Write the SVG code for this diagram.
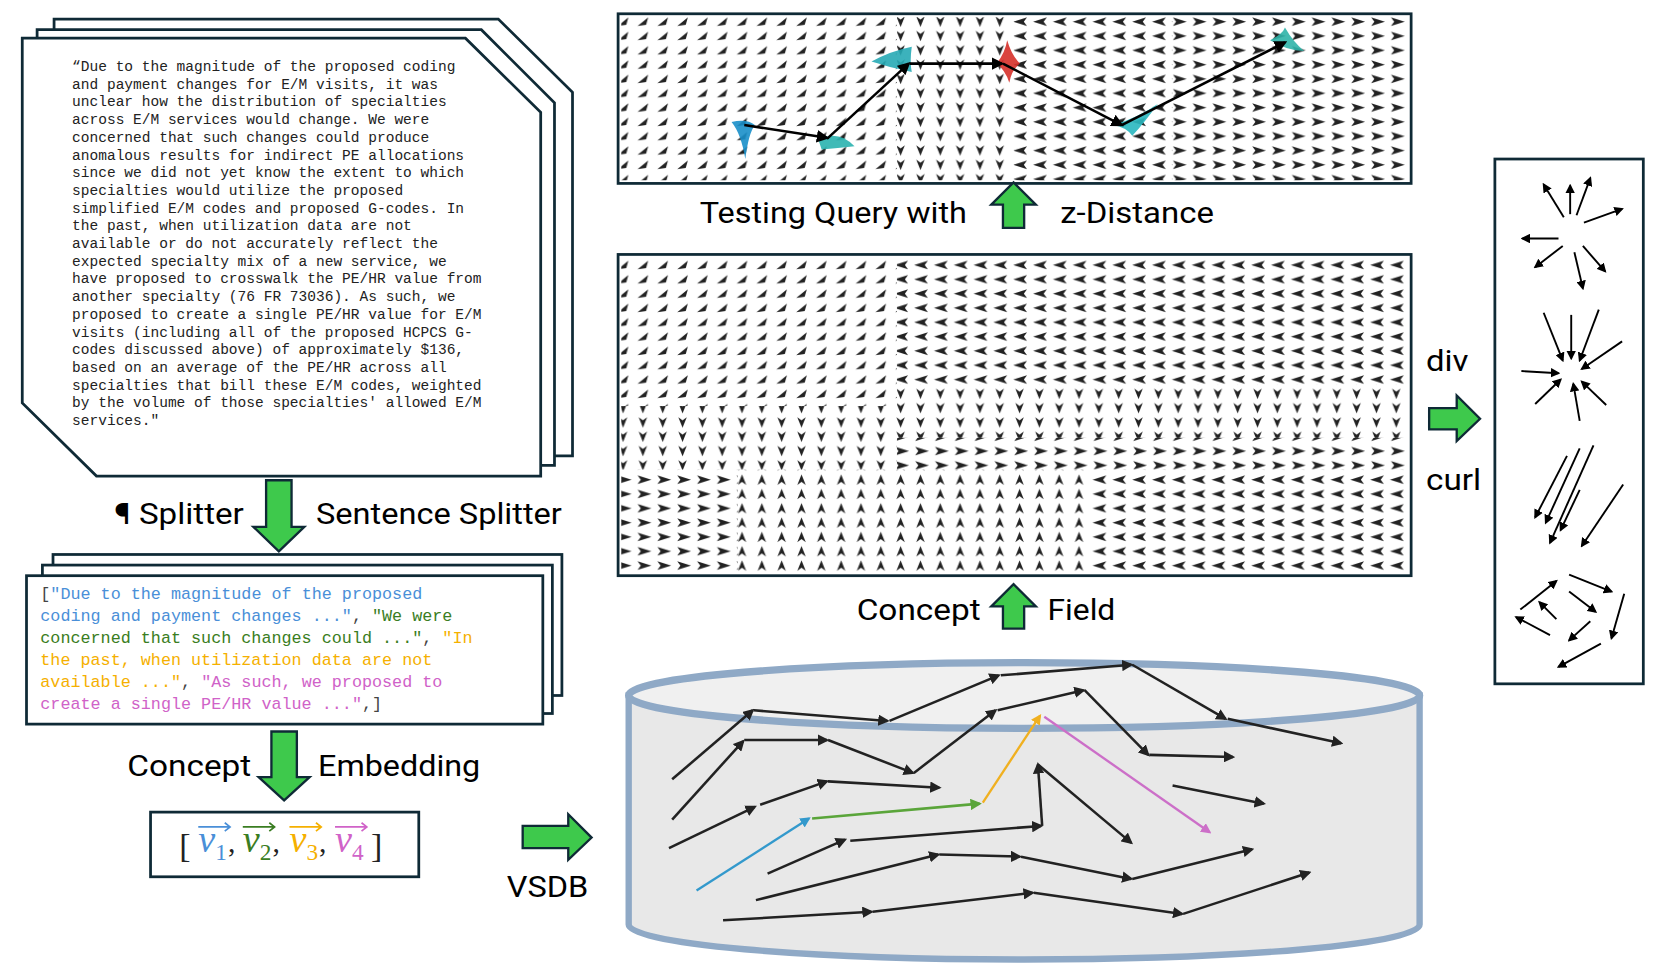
<svg xmlns="http://www.w3.org/2000/svg" width="1656" height="966" viewBox="0 0 1656 966">
<defs>
<style>
.pg{fill:#fff;stroke:#0f2a36;stroke-width:2.6}
.doc{font-family:"Liberation Mono",monospace;font-size:13.7px;fill:#222}
.lst{font-family:"Liberation Mono",monospace;font-size:15.8px}
.lbl{font-family:Roboto,"Liberation Sans",sans-serif;font-size:28px;fill:#000}
.ga{fill:#3ec94c;stroke:#0f2a36;stroke-width:2.2}
.ar{stroke:#222;stroke-width:2.4;fill:none;marker-end:url(#ah)}
.rp{stroke:#000;stroke-width:1.8;fill:none;marker-end:url(#ah2)}
.b{fill:#4a8fd8}.g{fill:#3a7d22}.o{fill:#f5b000}.p{fill:#d062c8}.k{fill:#444}
</style>
<marker id="ah" viewBox="0 0 10 10" refX="8" refY="5" markerWidth="4.5" markerHeight="4.5" orient="auto"><path d="M0,0L10,5L0,10z" fill="context-stroke"/></marker>
<marker id="ah2" viewBox="0 0 10 10" refX="8" refY="5" markerWidth="5" markerHeight="5" orient="auto"><path d="M0,0L10,5L0,10z" fill="#000"/></marker>
<marker id="ahb" viewBox="0 0 10 10" refX="8" refY="5" markerWidth="4.5" markerHeight="4.5" orient="auto"><path d="M0,0L10,5L0,10z" fill="#3399cc"/></marker>
<marker id="ahg" viewBox="0 0 10 10" refX="8" refY="5" markerWidth="4.5" markerHeight="4.5" orient="auto"><path d="M0,0L10,5L0,10z" fill="#5aa53a"/></marker>
<marker id="aho" viewBox="0 0 10 10" refX="8" refY="5" markerWidth="4.5" markerHeight="4.5" orient="auto"><path d="M0,0L10,5L0,10z" fill="#f0b020"/></marker>
<marker id="ahp" viewBox="0 0 10 10" refX="8" refY="5" markerWidth="4.5" markerHeight="4.5" orient="auto"><path d="M0,0L10,5L0,10z" fill="#cc6fc8"/></marker>
<pattern id="pUR" width="18.7" height="13.5" patternUnits="userSpaceOnUse"><path d="M3,11 L13,3 L11,10 Z" fill="#222"/></pattern>
<pattern id="pL" width="18.7" height="13.5" patternUnits="userSpaceOnUse"><path d="M2,7 L15,3 L12,7 L15,11 Z" fill="#222"/></pattern>
<pattern id="pR" width="18.7" height="13.5" patternUnits="userSpaceOnUse"><path d="M16,7 L3,3 L6,7 L3,11 Z" fill="#222"/></pattern>
<pattern id="pD" width="18.7" height="13.5" patternUnits="userSpaceOnUse"><path d="M8,12 L4,2 L8,5 L12,2 Z" fill="#222"/></pattern>
<pattern id="pU" width="18.7" height="13.5" patternUnits="userSpaceOnUse"><path d="M8,2 L4,12 L8,9 L12,12 Z" fill="#222"/></pattern>
</defs>
<rect width="1656" height="966" fill="#fff"/>
<g transform="scale(1.0602)">

<g id="document">
<path class="pg" d="M51,18 L470,18 L540,87 L540,430 L121,430 L51,361 Z"/>
<path class="pg" d="M35,28 L454,28 L523,97 L523,439 L105,439 L35,370 Z"/>
<path class="pg" d="M21,36 L439,36 L510,106 L510,449 L91,449 L21,380 Z"/>
<g class="doc">
<text x="68" y="67">“Due to the magnitude of the proposed coding</text>
<text x="68" y="83.7">and payment changes for E/M visits, it was</text>
<text x="68" y="100.4">unclear how the distribution of specialties</text>
<text x="68" y="117.1">across E/M services would change. We were</text>
<text x="68" y="133.8">concerned that such changes could produce</text>
<text x="68" y="150.5">anomalous results for indirect PE allocations</text>
<text x="68" y="167.2">since we did not yet know the extent to which</text>
<text x="68" y="183.9">specialties would utilize the proposed</text>
<text x="68" y="200.6">simplified E/M codes and proposed G-codes. In</text>
<text x="68" y="217.3">the past, when utilization data are not</text>
<text x="68" y="234">available or do not accurately reflect the</text>
<text x="68" y="250.7">expected specialty mix of a new service, we</text>
<text x="68" y="267.4">have proposed to crosswalk the PE/HR value from</text>
<text x="68" y="284.1">another specialty (76 FR 73036). As such, we</text>
<text x="68" y="300.8">proposed to create a single PE/HR value for E/M</text>
<text x="68" y="317.5">visits (including all of the proposed HCPCS G-</text>
<text x="68" y="334.2">codes discussed above) of approximately $136,</text>
<text x="68" y="350.9">based on an average of the PE/HR across all</text>
<text x="68" y="367.6">specialties that bill these E/M codes, weighted</text>
<text x="68" y="384.3">by the volume of those specialties' allowed E/M</text>
<text x="68" y="401">services."</text>
</g>
</g>

<g id="splitter">
<path class="ga" d="M251,453 L275,453 L275,497 L287,497 L263,520 L239,497 L251,497 Z"/>
<text class="lbl" x="108" y="494" textLength="122" lengthAdjust="spacingAndGlyphs">¶ Splitter</text>
<text class="lbl" x="298" y="494" textLength="232" lengthAdjust="spacingAndGlyphs">Sentence Splitter</text>
</g>

<g id="sentences">
<rect class="pg" x="50" y="523" width="480" height="133"/>
<rect class="pg" x="40" y="533" width="481" height="140"/>
<rect class="pg" x="25" y="543" width="487" height="140"/>
<g class="lst">
<text x="38" y="565"><tspan class="k">[</tspan><tspan class="b">"Due to the magnitude of the proposed</tspan></text>
<text x="38" y="585.8"><tspan class="b">coding and payment changes ..."</tspan><tspan class="k">, </tspan><tspan class="g">"We were</tspan></text>
<text x="38" y="606.6"><tspan class="g">concerned that such changes could ..."</tspan><tspan class="k">, </tspan><tspan class="o">"In</tspan></text>
<text x="38" y="627.4"><tspan class="o">the past, when utilization data are not</tspan></text>
<text x="38" y="648.2"><tspan class="o">available ..."</tspan><tspan class="k">, </tspan><tspan class="p">"As such, we proposed to</tspan></text>
<text x="38" y="669"><tspan class="p">create a single PE/HR value ..."</tspan><tspan class="k">,]</tspan></text>
</g>
</g>

<g id="embedding">
<path class="ga" d="M256,690 L280,690 L280,733 L292,733 L268,755 L244,733 L256,733 Z"/>
<text class="lbl" x="120" y="732" textLength="117" lengthAdjust="spacingAndGlyphs">Concept</text>
<text class="lbl" x="300" y="732" textLength="153" lengthAdjust="spacingAndGlyphs">Embedding</text>
</g>

<g id="vectors">
<rect class="pg" x="142" y="766" width="253" height="61"/>
<g font-family="'Liberation Serif',serif">
<text x="169" y="808" font-size="32" fill="#222">[</text>
<text x="187" y="804" font-size="36" font-style="italic" fill="#4a8fd8">v</text><text x="203" y="811" font-size="22" fill="#4a8fd8">1</text><text x="215" y="804" font-size="28" fill="#222">,</text>
<text x="229" y="804" font-size="36" font-style="italic" fill="#3a7d22">v</text><text x="245" y="811" font-size="22" fill="#3a7d22">2</text><text x="257" y="804" font-size="28" fill="#222">,</text>
<text x="273" y="804" font-size="36" font-style="italic" fill="#f5b000">v</text><text x="289" y="811" font-size="22" fill="#f5b000">3</text><text x="301" y="804" font-size="28" fill="#222">,</text>
<text x="316" y="804" font-size="36" font-style="italic" fill="#d062c8">v</text><text x="332" y="811" font-size="22" fill="#d062c8">4</text>
<text x="350" y="808" font-size="32" fill="#222">]</text>
</g>
<g stroke-width="1.6" fill="none">
<path d="M187,780 H217 M212,776 L217,780 L212,784" stroke="#4a8fd8"/>
<path d="M229,780 H259 M254,776 L259,780 L254,784" stroke="#3a7d22"/>
<path d="M273,780 H303 M298,776 L303,780 L298,784" stroke="#f5b000"/>
<path d="M316,780 H346 M341,776 L346,780 L341,784" stroke="#d062c8"/>
</g>
</g>

<g id="vsdb-arrow">
<path class="ga" d="M493,779 L536,779 L536,768 L558,790 L536,811 L536,800 L493,800 Z"/>
<text class="lbl" x="478" y="846" textLength="77" lengthAdjust="spacingAndGlyphs">VSDB</text>
</g>

<g id="vsdb">
<path d="M593,656 L593,872 A373,33 0 0 0 1339,872 L1339,656 Z" fill="#e8e8e8" stroke="#8fa9c6" stroke-width="6"/>
<ellipse cx="966" cy="656" rx="373" ry="31" fill="#f0f0f0" stroke="#8fa9c6" stroke-width="7"/>
<g id="connectors">
<path class="ar" d="M634,735 L710,670"/><path class="ar" d="M711,670 L837,680"/><path class="ar" d="M839,680 L942,637"/><path class="ar" d="M944,637 L1067,627"/><path class="ar" d="M1068,627 L1156,678"/><path class="ar" d="M1158,678 L1265,701"/>
<path class="ar" d="M634,773 L701,699"/><path class="ar" d="M702,698 L780,698"/><path class="ar" d="M781,698 L861,729"/><path class="ar" d="M862,729 L939,670"/><path class="ar" d="M941,670 L1022,651"/><path class="ar" d="M1023,651 L1083,712"/><path class="ar" d="M1084,712 L1163,714"/>
<path class="ar" d="M631,800 L712,761"/><path class="ar" d="M717,759 L780,737"/><path class="ar" d="M781,737 L886,743"/>
<path d="M657,840 L763,772" stroke="#3399cc" stroke-width="2.2" marker-end="url(#ahb)"/>
<path d="M766,772 L924,758" stroke="#5aa53a" stroke-width="2.4" marker-end="url(#ahg)"/>
<path d="M927,757 L981,675" stroke="#f0b020" stroke-width="2.2" marker-end="url(#aho)"/>
<path d="M985,676 L1141,785" stroke="#cc6fc8" stroke-width="2.2" marker-end="url(#ahp)"/>
<path class="ar" d="M724,824 L797,792"/><path class="ar" d="M802,793 L982,779"/><path class="ar" d="M983,779 L979,721"/><path class="ar" d="M979,721 L1067,795"/>
<path class="ar" d="M1106,741 L1192,758"/>
<path class="ar" d="M713,849 L885,806"/><path class="ar" d="M886,806 L962,808"/><path class="ar" d="M963,808 L1067,829"/><path class="ar" d="M1068,829 L1181,801"/>
<path class="ar" d="M682,868 L822,860"/><path class="ar" d="M823,860 L974,842"/><path class="ar" d="M975,842 L1115,862"/><path class="ar" d="M1116,862 L1235,823"/>
</g>
</g>

<g id="field-top">
<rect x="583" y="13" width="748" height="160" fill="#fff"/>
<rect x="586" y="16" width="260" height="154" fill="url(#pUR)"/>
<rect x="846" y="16" width="110" height="154" fill="url(#pD)"/>
<rect x="956" y="16" width="150" height="154" fill="url(#pL)"/>
<rect x="1106" y="16" width="222" height="154" fill="url(#pR)"/>
<g opacity="0.9">
<path d="M690,115 Q705,112 712,118 Q706,126 703,150 Q699,126 690,115 Z" fill="#1a8fc9"/>
<path d="M772,132 Q790,122 806,138 Q790,140 775,141 Z" fill="#2bb3b0"/>
<path d="M822,58 Q840,48 860,44 Q858,58 860,68 Q840,64 822,58 Z" fill="#27aab5"/>
<path d="M940,60 Q948,50 950,38 Q954,52 962,60 Q954,66 952,78 Q948,66 940,60 Z" fill="#d6302a"/>
<path d="M1050,118 Q1075,110 1092,98 Q1080,115 1068,128 Q1062,120 1050,118 Z" fill="#2ab8c0"/>
<path d="M1198,38 Q1210,32 1212,26 Q1220,40 1230,48 Q1214,48 1198,38 Z" fill="#2fb4a8"/>
</g>
<g stroke="#000" stroke-width="2.4" fill="none" marker-end="url(#ah2)">
<path d="M702,118 L780,130"/><path d="M780,131 L857,60"/><path d="M858,60 L945,60"/><path d="M946,60 L1058,118"/><path d="M1058,118 L1212,40"/>
</g>
<rect x="583" y="13" width="748" height="160" fill="none" stroke="#0f2a36" stroke-width="2.6"/>
</g>

<g id="zdist">
<path class="ga" d="M946,215 L946,193 L935,193 L956,172 L977,193 L966,193 L966,215 Z"/>
<text class="lbl" x="660" y="210" textLength="252" lengthAdjust="spacingAndGlyphs">Testing Query  with</text>
<text class="lbl" x="1000" y="210" textLength="145" lengthAdjust="spacingAndGlyphs">z-Distance</text>
</g>

<g id="field-bottom">
<rect x="583" y="240" width="748" height="303" fill="#fff"/>
<rect x="586" y="243" width="260" height="140" fill="url(#pUR)"/>
<rect x="846" y="243" width="482" height="120" fill="url(#pL)"/>
<rect x="846" y="363" width="482" height="50" fill="url(#pD)"/>
<rect x="586" y="383" width="260" height="60" fill="url(#pD)"/>
<rect x="586" y="443" width="110" height="97" fill="url(#pR)"/>
<rect x="696" y="443" width="330" height="97" fill="url(#pU)"/>
<rect x="846" y="413" width="260" height="30" fill="url(#pR)"/>
<rect x="1026" y="443" width="302" height="97" fill="url(#pL)"/>
<rect x="1106" y="413" width="222" height="30" fill="url(#pR)"/>
<rect x="583" y="240" width="748" height="303" fill="none" stroke="#0f2a36" stroke-width="2.6"/>
</g>

<g id="field-label">
<path class="ga" d="M946,593 L946,572 L935,572 L956,551 L977,572 L966,572 L966,593 Z"/>
<text class="lbl" x="808" y="585" textLength="117" lengthAdjust="spacingAndGlyphs">Concept</text>
<text class="lbl" x="988" y="585" textLength="64" lengthAdjust="spacingAndGlyphs">Field</text>
</g>

<g id="divcurl">
<text class="lbl" x="1345" y="350" textLength="40" lengthAdjust="spacingAndGlyphs">div</text>
<path class="ga" d="M1348,385 L1374,385 L1374,373 L1396,395 L1374,416 L1374,405 L1348,405 Z"/>
<text class="lbl" x="1345" y="462" textLength="52" lengthAdjust="spacingAndGlyphs">curl</text>
</g>

<g id="operators">
<rect x="1410" y="150" width="140" height="495" fill="#fff" stroke="#0f2a36" stroke-width="2.6"/>
<g>
<path class="rp" d="M1475,205 L1456,174"/><path class="rp" d="M1481,202 L1481,175"/><path class="rp" d="M1487,203 L1500,168"/><path class="rp" d="M1494,210 L1530,197"/>
<path class="rp" d="M1470,225 L1436,225"/><path class="rp" d="M1474,232 L1448,252"/><path class="rp" d="M1485,238 L1493,272"/><path class="rp" d="M1493,232 L1514,256"/>
<path class="rp" d="M1456,295 L1474,340"/><path class="rp" d="M1482,297 L1482,338"/><path class="rp" d="M1508,292 L1490,340"/><path class="rp" d="M1530,322 L1492,348"/>
<path class="rp" d="M1435,350 L1470,352"/><path class="rp" d="M1448,381 L1472,358"/><path class="rp" d="M1490,397 L1484,362"/><path class="rp" d="M1515,382 L1492,360"/>
<path class="rp" d="M1478,430 L1448,488"/><path class="rp" d="M1490,423 L1458,493"/><path class="rp" d="M1503,420 L1462,512"/><path class="rp" d="M1490,462 L1472,500"/><path class="rp" d="M1531,457 L1492,515"/>
<path class="rp" d="M1434,575 L1468,548"/><path class="rp" d="M1480,542 L1520,558"/><path class="rp" d="M1480,558 L1505,577"/><path class="rp" d="M1532,560 L1520,602"/>
<path class="rp" d="M1500,586 L1480,604"/><path class="rp" d="M1510,607 L1470,629"/><path class="rp" d="M1462,599 L1430,582"/><path class="rp" d="M1468,584 L1452,568"/>
</g>
</g>

</g>
</svg>
